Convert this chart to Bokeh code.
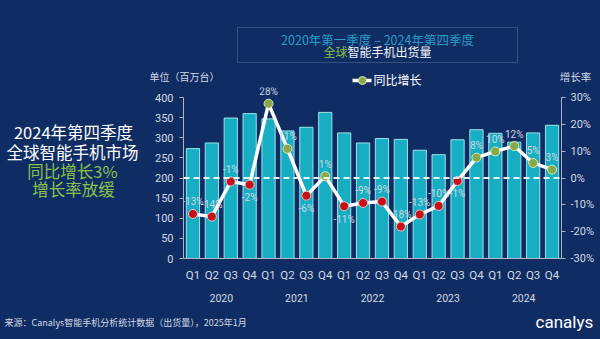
from bokeh.plotting import figure
from bokeh.layouts import column, row
from bokeh.models import (FactorRange, Range1d, LinearAxis, Span, Label, BoxAnnotation,
                          PrintfTickFormatter, FixedTicker, ColumnDataSource)
from bokeh.embed import file_html
from bokeh.resources import INLINE
from bokeh.core.properties import value

years = ["2020", "2021", "2022", "2023", "2024"]
quarters = ["Q1", "Q2", "Q3", "Q4"]
shipments = [273, 287, 349, 360, 347, 317, 326, 363, 312, 287, 298, 296,
             269, 258, 295, 320, 311, 289, 312, 331]
yoy = [-13.4, -14.4, -1.3, -2.5, 27.7, 10.9, -6.6, 0.7, -10.5, -9.3, -8.8, -18.1,
       -13.6, -10.4, -1.1, 7.6, 9.9, 11.9, 5.6, 3.1]
yoy_labels = ["-13%", "-14%", "-1%", "-2%", "28%", "11%", "-6%", "1%", "-11%", "-9%",
              "-9%", "-18%", "-13%", "-10%", "-1%", "8%", "10%", "12%", "5%", "3%"]
label_below = [3, 6, 8, 14]  # indices whose label sits under the marker

left_ticks = [0, 50, 100, 150, 200, 250, 300, 350, 400]
right_ticks = [-30, -20, -10, 0, 10, 20, 30]

factors = [(y, q) for y in years for q in quarters]

BG = "#0f2d63"
TXT = "#d3dae5"
GREEN_TXT = "#8cc04a"
CJK = "Noto Sans CJK SC"
NUM = "Roboto"

# ---------------- layout geometry (canvas px) ----------------
W, H = 600, 339
HEAD_H = 87          # header band
FOOT_Y = 305         # footer band starts
LEFT_W = 150         # left text column
FRAME_L, FRAME_R, FRAME_B = 183, 561, 258
PX_PER_UNIT = 161 / 400.0
PX_PER_PCT = 161 / 60.0


def deco(w, h, x0, x1, ytop, ybot):
    f = figure(width=w, height=h, x_range=Range1d(x0, x1), y_range=Range1d(ybot, ytop),
               x_axis_type=None, y_axis_type=None, output_backend="svg",
               toolbar_location=None, min_border=0, frame_align=False,
               styles={"background-color": BG})
    f.background_fill_color = BG
    f.border_fill_color = BG
    f.outline_line_color = None
    return f


def lab(f, text, cx, cy, size, color, align="center", font=CJK):
    f.add_layout(Label(x=cx, y=cy, text=text, text_align=align, text_baseline="middle",
                       text_font=font, text_font_size=size, text_color=color))


# ---------------- chart ----------------
chart_h = FOOT_Y - HEAD_H
frame_h = FRAME_B - HEAD_H
p = figure(width=W - LEFT_W, height=chart_h,
           x_range=FactorRange(*factors, range_padding=0, group_padding=0, factor_padding=0),
           y_range=Range1d(0, frame_h / PX_PER_UNIT),
           output_backend="svg", toolbar_location=None, frame_align=False,
           styles={"background-color": BG},
           min_border_left=FRAME_L - LEFT_W, min_border_right=W - FRAME_R,
           min_border_top=0, min_border_bottom=FOOT_Y - FRAME_B)
p.extra_y_ranges = {"pct": Range1d(-30, -30 + frame_h / PX_PER_PCT)}
p.background_fill_color = BG
p.border_fill_color = BG
p.outline_line_color = None
p.xgrid.grid_line_color = None
p.ygrid.grid_line_color = None

ya = p.yaxis[0]
ya.ticker = FixedTicker(ticks=left_ticks)
ya.bounds = (0, 400)
ya.axis_line_color = "#aab6c8"
ya.major_tick_line_color = "#aab6c8"
ya.major_tick_out = 4
ya.major_tick_in = 0
ya.minor_tick_line_color = None
ya.major_label_text_color = TXT
ya.major_label_text_font = NUM
ya.major_label_text_font_size = "11px"
ya.major_label_standoff = 6

ra = LinearAxis(y_range_name="pct", ticker=FixedTicker(ticks=right_ticks),
                formatter=PrintfTickFormatter(format="%d%%"), bounds=(-30, 30))
ra.axis_line_color = "#aab6c8"
ra.major_tick_line_color = "#aab6c8"
ra.major_tick_out = 4
ra.major_tick_in = 0
ra.minor_tick_line_color = None
ra.major_label_text_color = TXT
ra.major_label_text_font = NUM
ra.major_label_text_font_size = "11px"
ra.major_label_standoff = 5
p.add_layout(ra, "right")

xa = p.xaxis[0]
xa.axis_line_color = "#aab6c8"
xa.major_tick_line_color = None
xa.major_tick_out = 0
xa.major_tick_in = 0
xa.minor_tick_line_color = None
xa.major_label_text_color = TXT
xa.major_label_text_font = NUM
xa.major_label_text_font_size = "11.5px"
xa.major_label_standoff = 9
xa.group_text_color = TXT
xa.group_text_font = NUM
xa.group_text_font_size = "10.5px"
xa.group_text_font_style = "normal"
xa.separator_line_alpha = 0

src = ColumnDataSource(dict(x=factors, shipments=shipments, yoy=yoy))
p.vbar(x="x", top="shipments", width=0.7, source=src,
       fill_color="#17aec4", line_color="#9fe0ea", line_width=1)

p.add_layout(Span(location=200, dimension="width", line_color="white",
                  line_dash="6 4", line_width=2, line_alpha=0.9))

p.line(x="x", y="yoy", source=src, y_range_name="pct", line_color="white", line_width=3.5)

pos_idx = [i for i, v in enumerate(yoy) if v >= 0]
neg_idx = [i for i, v in enumerate(yoy) if v < 0]
pos_src = ColumnDataSource(dict(x=[factors[i] for i in pos_idx], y=[yoy[i] for i in pos_idx]))
neg_src = ColumnDataSource(dict(x=[factors[i] for i in neg_idx], y=[yoy[i] for i in neg_idx]))
p.scatter(x="x", y="y", source=pos_src, y_range_name="pct", size=9,
          fill_color="#8aa84a", line_color="#d8e6b8", line_width=1)
p.scatter(x="x", y="y", source=neg_src, y_range_name="pct", size=9,
          fill_color="#c8101a", line_color="#f0c0c0", line_width=1)

above = [i for i in range(len(yoy)) if i not in label_below]
ab_src = ColumnDataSource(dict(x=[factors[i] for i in above], y=[yoy[i] for i in above],
                               t=[yoy_labels[i] for i in above]))
be_src = ColumnDataSource(dict(x=[factors[i] for i in label_below], y=[yoy[i] for i in label_below],
                               t=[yoy_labels[i] for i in label_below]))
for s, off in ((ab_src, -12), (be_src, 13)):
    p.text(x="x", y="y", text="t", source=s, y_range_name="pct", y_offset=off,
           text_align="center", text_baseline="middle", text_font=value(NUM),
           text_font_size="10px", text_color="#cfd6e0")

# ---------------- header ----------------
head = deco(W, HEAD_H, 0, W, 0, HEAD_H)
head.add_layout(BoxAnnotation(left=237, right=517, top=27, bottom=62,
                              fill_alpha=0, line_color="#8fa3c2", line_width=1.2))
lab(head, "2020年第一季度 – 2024年第四季度", 377, 38.5, "12.5px", "#2b9cc2")
lab(head, "全球", 347, 50.5, "12px", GREEN_TXT, align="right")
lab(head, "智能手机出货量", 347, 50.5, "12px", "#f2f4f8", align="left")
lab(head, "单位（百万台）", 184, 75.5, "10px", TXT)
lab(head, "增长率", 575, 76, "10.5px", TXT)
# legend sample: line with a green marker, then its label
head.line(x=[352, 371], y=[80, 80], line_color="white", line_width=3.5)
head.scatter(x=[362], y=[80], size=8, fill_color="#8aa84a", line_color="#d8e6b8", line_width=1)
lab(head, "同比增长", 373, 79, "12px", "white", align="left")

# ---------------- left text column ----------------
left = deco(LEFT_W, chart_h, 0, LEFT_W, HEAD_H, FOOT_Y)
lab(left, "2024年第四季度", 73, 131.5, "16.5px", "white")
lab(left, "全球智能手机市场", 72, 151.5, "16.5px", "white")
lab(left, "同比增长3%", 72, 170, "16.5px", GREEN_TXT)
lab(left, "增长率放缓", 73, 188.5, "16.5px", GREEN_TXT)

# ---------------- footer ----------------
foot = deco(W, H - FOOT_Y, 0, W, FOOT_Y, H)
lab(foot, "来源：Canalys智能手机分析统计数据（出货量），2025年1月", 4, 322, "9px", TXT, align="left")
lab(foot, "canalys", 535, 321, "17px", "white", align="left", font=NUM)

mid = row(left, p, styles={"background-color": BG})
layout = column(head, mid, foot, styles={"background-color": BG})
open("out.html", "w").write(file_html(layout, INLINE))
